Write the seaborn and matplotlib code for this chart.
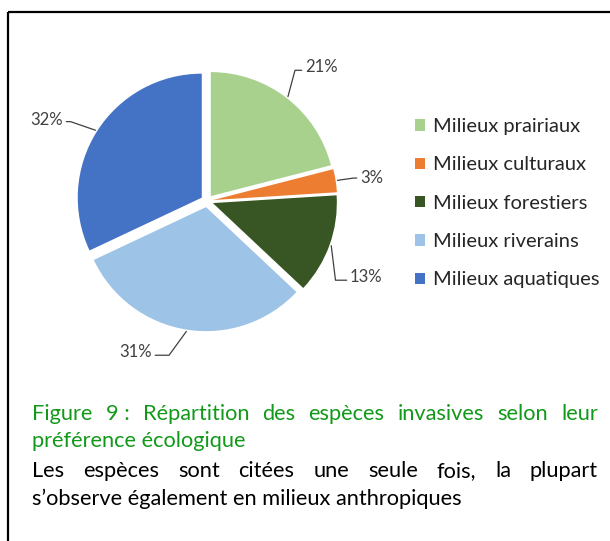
import matplotlib
matplotlib.use("Agg")
import matplotlib.pyplot as plt
from matplotlib.patches import Patch
from matplotlib.lines import Line2D
import seaborn as sns
import numpy as np

# ---------------- data ----------------
categories = ["Milieux prairiaux", "Milieux culturaux", "Milieux forestiers",
              "Milieux riverains", "Milieux aquatiques"]
values = [21, 3, 13, 31, 32]
colors = ["#A9D18E", "#ED7D31", "#375623", "#9DC3E6", "#4472C4"]
pct_labels = [f"{v}%" for v in values]

caption_green = ["Figure 9\u00a0: Répartition des espèces invasives selon leur",
                 "préférence écologique"]
caption_black = ["Les espèces sont citées une seule fois, la plupart",
                 "s’observe également en milieux anthropiques"]

# ---------------- style ----------------
sns.set_theme(style="white")
plt.rcParams['font.family'] = ['Lato', 'DejaVu Sans']

W, H = 610, 541
fig = plt.figure(figsize=(W / 100, H / 100), dpi=100)
fig.patch.set_facecolor("white")

# pie axes: centre at (207, 201) px, radius ~124 px
cx, cy, R = 207, 201, 124
lim = 1.3
side = 2 * lim * R
ax = fig.add_axes([(cx - side / 2) / W, (H - cy - side / 2) / H, side / W, side / H])
wedges, _ = ax.pie(values, colors=colors, startangle=90, counterclock=False,
                   explode=[0.05] * len(values), wedgeprops=dict(linewidth=0))
ax.set_xlim(-lim, lim)
ax.set_ylim(-lim, lim)
ax.set_aspect("equal")
ax.axis("off")

# label layout (text anchor, alignment, leader angle near the pie)
label_pos = [(0.79, 1.08), (1.234, 0.185), (1.153, -0.613), (-0.444, -1.218), (-1.161, 0.653)]
label_ha = ["left", "left", "left", "right", "right"]
label_rel = [(0, 0.3), (0, 0.5), (0, 0.3), (1, 0.3), (1, 0.4)]
leader_ang = [75, 8, -83, 54, -19]

for w, txt, pos, ha, rel, ang in zip(wedges, pct_labels, label_pos, label_ha, label_rel, leader_ang):
    theta = np.deg2rad((w.theta1 + w.theta2) / 2)
    r = 1.065
    xy = (r * np.cos(theta), r * np.sin(theta))
    ax.annotate(txt, xy=xy, xytext=pos, ha=ha, va="center", fontsize=12,
                color="#404040",
                arrowprops=dict(arrowstyle="-", color="#404040", lw=0.9,
                                shrinkA=0, shrinkB=0, relpos=rel,
                                connectionstyle=f"angle,angleA=0,angleB={ang},rad=0"))

# legend
handles = [Patch(facecolor=c, edgecolor="none") for c in colors]
fig.legend(handles, categories, loc="upper left",
           bbox_to_anchor=(407 / W, 1 - 110 / H), frameon=False,
           fontsize=14.5, handlelength=0.5, handleheight=0.5,
           handletextpad=0.4, labelspacing=1.06, borderaxespad=0,
           labelcolor="#262626")

# border (left and top)
fig.add_artist(Line2D([8 / W, 8 / W], [0, 1 - 12 / H], transform=fig.transFigure,
                      color="black", lw=1.6, solid_capstyle="butt"))
fig.add_artist(Line2D([8 / W, 1], [1 - 12 / H, 1 - 12 / H], transform=fig.transFigure,
                      color="black", lw=1.6, solid_capstyle="butt"))

# justified caption
renderer = fig.canvas.get_renderer()
X0, X1 = 32, 598
FS = 15.7


def draw_line(text, y_px, color, justify):
    words = text.split(" ")
    if not justify or len(words) == 1:
        fig.text(X0 / W, 1 - y_px / H, text, fontsize=FS, color=color,
                 ha="left", va="baseline")
        return
    objs = [fig.text(0, 1 - y_px / H, wd, fontsize=FS, color=color,
                     ha="left", va="baseline") for wd in words]
    widths = [o.get_window_extent(renderer).width for o in objs]
    gap = (X1 - X0 - sum(widths)) / (len(words) - 1)
    x = X0
    for o, wdt in zip(objs, widths):
        o.set_x(x / W)
        x += wdt + gap


green = "#12991A"
draw_line(caption_green[0], 420, green, True)
draw_line(caption_green[1], 447, green, False)
draw_line(caption_black[0], 477, "black", True)
draw_line(caption_black[1], 505, "black", False)

fig.savefig("out.png", dpi=100, facecolor="white")
